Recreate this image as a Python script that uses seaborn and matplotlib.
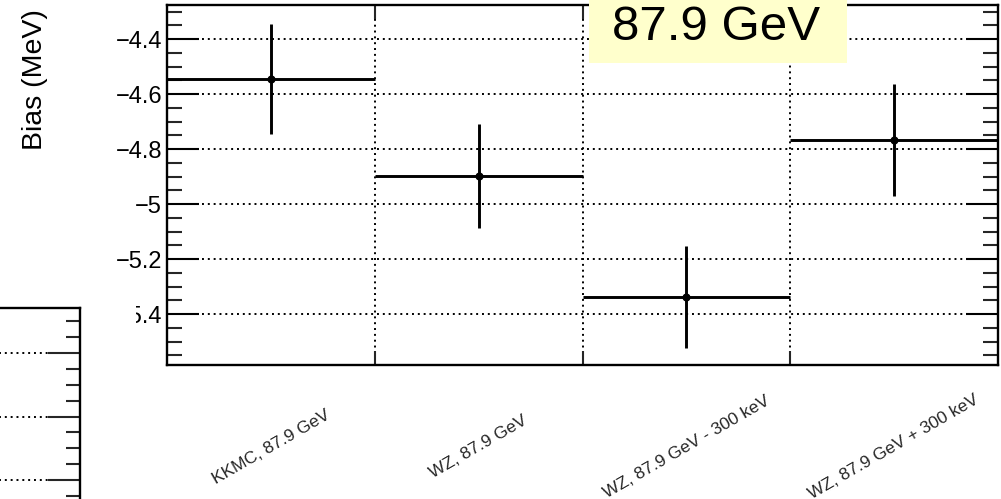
import numpy as np
import pandas as pd
import matplotlib
matplotlib.use("Agg")
import matplotlib.pyplot as plt
import seaborn as sns
from matplotlib.patches import Rectangle
from matplotlib.ticker import MultipleLocator, FuncFormatter

# ---- data ----
categories = ["KKMC, 87.9 GeV", "WZ, 87.9 GeV", "WZ, 87.9 GeV - 300 keV", "WZ, 87.9 GeV + 300 keV"]
bias = [-4.545, -4.898, -5.338, -4.767]
bias_err = [0.200, 0.190, 0.187, 0.205]
energy_label = "87.9 GeV"
y_title = "Bias (MeV)"

sns.set_theme(style="ticks")
plt.rcParams["font.family"] = ["Liberation Sans", "DejaVu Sans"]
plt.rcParams["axes.unicode_minus"] = True

W, H = 1001, 499
fig = plt.figure(figsize=(W / 100, H / 100), dpi=100)
fig.patch.set_facecolor("white")


def px_axes(l, t, r, b):
    return [l / W, 1 - b / H, (r - l) / W, (b - t) / H]


ax = fig.add_axes(px_axes(167, 5, 998, 365))
ax.set_facecolor("white")

df = pd.DataFrame({"pos": np.arange(len(categories)), "bias": bias, "err": bias_err})

ax.errorbar(df["pos"], df["bias"], xerr=0.5, yerr=df["err"], fmt="none",
            ecolor="black", elinewidth=2.1, capsize=0, zorder=3)
sns.scatterplot(data=df, x="pos", y="bias", ax=ax, color="black", s=34,
                edgecolor="black", linewidth=0, zorder=4, legend=False)

ax.set_xlim(-0.5, len(categories) - 0.5)
ax.set_ylim(-5.585, -4.276)

# y ticks
ax.yaxis.set_major_locator(MultipleLocator(0.2))
ax.yaxis.set_minor_locator(MultipleLocator(0.05))
ax.yaxis.set_major_formatter(FuncFormatter(lambda v, p: f"{v:g}".replace("-", "\u2212")))
ax.tick_params(axis="y", which="major", direction="in", length=23, width=1.5,
               left=True, right=True, labelsize=17, pad=3.5, colors="black")
ax.tick_params(axis="y", which="minor", direction="in", length=11, width=1.5,
               left=True, right=True)

# x ticks: labels at bin centres, tick marks at bin edges
ax.set_xticks(df["pos"])
ax.set_xticklabels(categories, rotation=30, ha="center", va="center",
                   rotation_mode="anchor", fontsize=12.5)
ax.set_xticks(np.arange(0.5, len(categories) - 0.5, 1.0), minor=True)
ax.tick_params(axis="x", which="major", length=0, pad=59)
ax.tick_params(axis="x", which="minor", direction="in", length=10, width=1.5,
               top=True, bottom=True)

ax.grid(False)
ax.grid(axis="y", which="major", color="black", linestyle=(0, (1, 2)), linewidth=1.4)
ax.grid(axis="x", which="minor", color="black", linestyle=(0, (1, 2)), linewidth=1.4)
ax.set_axisbelow(True)

for s in ax.spines.values():
    s.set_visible(True)
    s.set_linewidth(1.7)
    s.set_color("black")

ax.set_xlabel("")
ax.set_ylabel(y_title, fontsize=20.5, color="black")
ax.yaxis.label.set_va("center")
ax.yaxis.set_label_coords((35 - 167) / 831, (365 - 80) / 360)

# white pad of the neighbouring plot covering part of the labels
fig.patches.append(Rectangle((0, 0), 136 / W, (H - 290) / H, transform=fig.transFigure,
                             facecolor="white", edgecolor="none", zorder=1.5))

# neighbouring (partially visible) plot frame at bottom-left
ax2 = fig.add_axes(px_axes(-200, 308, 80, 560))
ax2.set_zorder(2)
ax2.set_facecolor("white")
ax2.set_xlim(0, 1)
ax2.set_ylim(2.709 - 252 / 63.5, 2.709)
ax2.yaxis.set_major_locator(MultipleLocator(1.0))
ax2.yaxis.set_minor_locator(MultipleLocator(0.25))
ax2.yaxis.tick_right()
ax2.tick_params(axis="y", which="major", direction="in", length=23, width=1.5,
                left=False, right=True, labelright=False, labelleft=False)
ax2.tick_params(axis="y", which="minor", direction="in", length=10, width=1.5,
                left=False, right=True)
ax2.set_xticks([])
ax2.grid(False)
ax2.grid(axis="y", which="major", color="black", linestyle=(0, (1, 2)), linewidth=1.4)
for s in ax2.spines.values():
    s.set_visible(True)
    s.set_linewidth(1.7)
    s.set_color("black")

# energy label box drawn over the frame
fig.patches.append(Rectangle((589 / W, 1 - 63 / H), (847 - 589) / W, 63 / H + 0.01,
                             transform=fig.transFigure, facecolor="#ffffcc",
                             edgecolor="none", zorder=3))
fig.text(716 / W, 1 - 40 / H, energy_label, fontsize=35.5, ha="center", va="baseline",
         color="black", zorder=4)

fig.savefig("out.png", dpi=100)
